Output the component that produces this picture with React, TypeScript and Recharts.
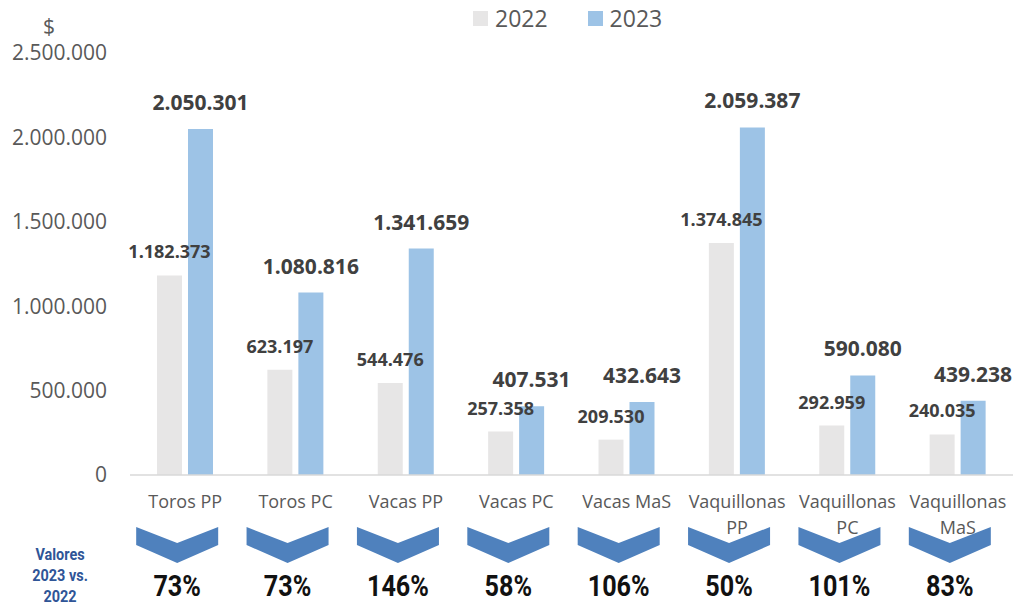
import { Bar, BarChart, LabelList, XAxis, YAxis } from "recharts";

document.body.style.margin = "0";

const CATEGORIES = [
  "Toros PP",
  "Toros PC",
  "Vacas PP",
  "Vacas PC",
  "Vacas MaS",
  "Vaquillonas PP",
  "Vaquillonas PC",
  "Vaquillonas MaS",
];
const CATEGORY_LINES = [
  ["Toros PP"],
  ["Toros PC"],
  ["Vacas PP"],
  ["Vacas PC"],
  ["Vacas MaS"],
  ["Vaquillonas", "PP"],
  ["Vaquillonas", "PC"],
  ["Vaquillonas", "MaS"],
];
const VALUES_2022 = [1182373, 623197, 544476, 257358, 209530, 1374845, 292959, 240035];
const VALUES_2023 = [2050301, 1080816, 1341659, 407531, 432643, 2059387, 590080, 439238];
const CHANGE = ["73%", "73%", "146%", "58%", "106%", "50%", "101%", "83%"];
const Y_TICKS = [0, 500000, 1000000, 1500000, 2000000, 2500000];

const SERIES = [
  { key: "y2022", name: "2022", color: "#E7E6E6" },
  { key: "y2023", name: "2023", color: "#9DC3E6" },
];

const data = CATEGORIES.map((c, i) => ({
  name: c,
  y2022: VALUES_2022[i],
  y2023: VALUES_2023[i],
}));

const fmt = (v: number) => String(v).replace(/\B(?=(\d{3})+(?!\d))/g, ".");

const TEXT = "#595959";
const LABEL = "#404040";
const CHEVRON = "#4F81BD";
const BAR_SIZE = 25;
const BAR_GAP = 6;

function CategoryTick(props: any) {
  const { x, y, payload } = props;
  const i = payload.index;
  const lines = CATEGORY_LINES[i] ?? [payload.value];
  const cx = x - 8;
  const pts = [
    [cx - 41, y + 52],
    [cx, y + 68],
    [cx + 41, y + 52],
    [cx + 41, y + 70],
    [cx, y + 88],
    [cx - 41, y + 70],
  ]
    .map((p) => p.join(","))
    .join(" ");
  return (
    <g>
      <polygon points={pts} fill={CHEVRON} />
      {lines.map((l: string, k: number) => (
        <text
          key={k}
          x={x}
          y={y + 33 + k * 26}
          textAnchor="middle"
          fontSize={18}
          fill={TEXT}
          fontFamily="Open Sans"
        >
          {l}
        </text>
      ))}
      <text
        transform={`translate(${cx},${y + 121}) scale(0.84,1)`}
        textAnchor="middle"
        fontSize={30}
        fontWeight="bold"
        fill="#111"
        fontFamily="Roboto"
      >
        {CHANGE[i]}
      </text>
    </g>
  );
}

// 2022 labels are drawn from the 2023 bar so they sit above the blue bars
function Label2022(props: any) {
  const { x, y, height, index } = props;
  const base = y + height;
  const top = base - (height * VALUES_2022[index]) / VALUES_2023[index];
  const cx = x - BAR_GAP - BAR_SIZE / 2;
  return (
    <text
      x={cx}
      y={top - 17}
      textAnchor="middle"
      fontSize={18}
      fontWeight="bold"
      fill={LABEL}
      fontFamily="Open Sans"
    >
      {fmt(VALUES_2022[index])}
    </text>
  );
}

export default function App() {
  return (
    <div style={{ position: "relative", width: 1013, height: 607, fontFamily: "Open Sans", background: "#fff" }}>
      <div style={{ position: "absolute", left: 43, top: 12, fontSize: 21, color: TEXT, lineHeight: "28px" }}>$</div>
      <div
        style={{
          position: "absolute",
          left: 473,
          top: 3,
          display: "flex",
          alignItems: "center",
          gap: 40,
          fontSize: 23,
          color: TEXT,
          lineHeight: "30px",
        }}
      >
        {SERIES.map((s) => (
          <span key={s.key} style={{ display: "inline-flex", alignItems: "center", gap: 7 }}>
            <span style={{ display: "inline-block", width: 15, height: 15, background: s.color }} />
            {s.name}
          </span>
        ))}
      </div>
      <div
        style={{
          position: "absolute",
          left: 0,
          top: 544,
          width: 120,
          textAlign: "center",
          fontFamily: "Roboto",
          fontWeight: "bold",
          fontSize: 17,
          lineHeight: "21px",
          color: "#2F5597",
          transform: "scaleX(0.85)",
        }}
      >
        Valores
        <br />
        2023 vs.
        <br />
        2022
      </div>
      <BarChart
        width={1013}
        height={607}
        data={data}
        margin={{ top: 53, right: 0, bottom: 0, left: 0 }}
        barSize={BAR_SIZE}
        barGap={BAR_GAP}
        style={{ position: "absolute", left: 0, top: 0 }}
      >
        <XAxis
          dataKey="name"
          interval={0}
          tickLine={false}
          tickSize={0}
          tickMargin={0}
          axisLine={{ stroke: "#D9D9D9", strokeWidth: 1.5 }}
          height={132}
          tick={<CategoryTick />}
        />
        <YAxis
          width={130}
          domain={[0, 2500000]}
          ticks={Y_TICKS}
          axisLine={false}
          tickLine={false}
          tickSize={0}
          tickMargin={23}
          tickFormatter={fmt}
          tick={{ fontSize: 21, fill: TEXT, fontFamily: "Open Sans" }}
        />
        <Bar dataKey="y2022" name="2022" fill={SERIES[0].color} isAnimationActive={false} />
        <Bar dataKey="y2023" name="2023" fill={SERIES[1].color} isAnimationActive={false}>
          <LabelList content={<Label2022 />} />
          <LabelList
            dataKey="y2023"
            position="top"
            offset={19}
            formatter={(v: any) => fmt(Number(v))}
            style={{ fontSize: 21, fontWeight: "bold", fill: LABEL, fontFamily: "Open Sans" }}
          />
        </Bar>
      </BarChart>
    </div>
  );
}
